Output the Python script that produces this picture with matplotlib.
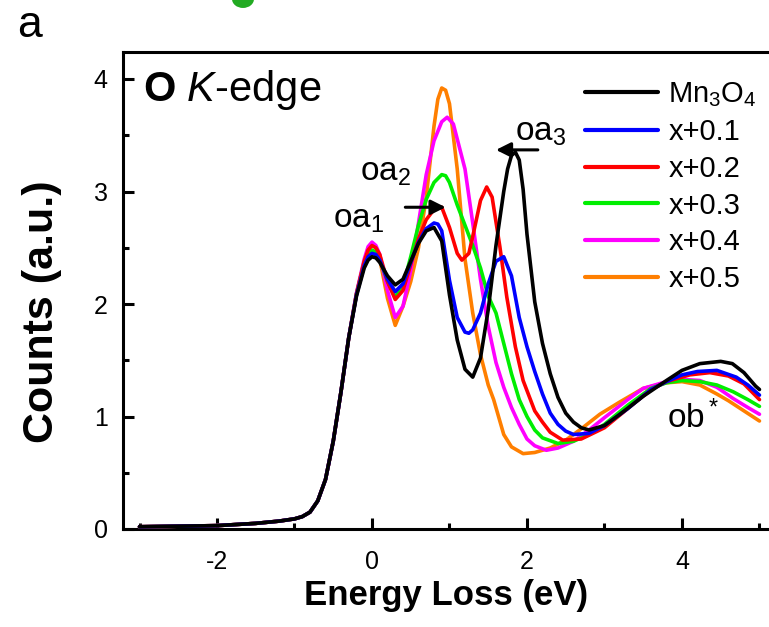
import matplotlib
matplotlib.use("Agg")
import matplotlib.pyplot as plt
from matplotlib.patches import Circle
from matplotlib.ticker import MultipleLocator

plt.rcParams['font.family'] = ['Liberation Sans', 'DejaVu Sans']
plt.rcParams['mathtext.fontset'] = 'custom'
plt.rcParams['mathtext.rm'] = 'Liberation Sans'
plt.rcParams['mathtext.it'] = 'Liberation Sans:italic'
plt.rcParams['mathtext.bf'] = 'Liberation Sans:bold'
plt.rcParams['axes.unicode_minus'] = False

# ---------------- data ----------------
labels = ['Mn$_3$O$_4$', 'x+0.1', 'x+0.2', 'x+0.3', 'x+0.4', 'x+0.5']
colors = ['#000000', '#0000ff', '#ff0000', '#00ee00', '#ff00ff', '#ff7f00']

# shared onset (all spectra coincide here)
onset_x = [-3.0, -2.5, -2.0, -1.5, -1.2, -1.0, -0.9, -0.8, -0.7, -0.6, -0.5, -0.4, -0.3]
onset_y = [0.02, 0.025, 0.03, 0.05, 0.07, 0.09, 0.11, 0.15, 0.25, 0.44, 0.78, 1.22, 1.70]

mn3o4_x = [-0.2, -0.1, -0.05, 0.0, 0.05, 0.1, 0.2, 0.3, 0.4, 0.5, 0.6, 0.7, 0.8, 0.9, 1.0, 1.1,
           1.2, 1.3, 1.4, 1.5, 1.6, 1.7, 1.75, 1.8, 1.85, 1.9, 1.95, 2.0, 2.1, 2.2, 2.3, 2.4, 2.5, 2.6, 2.7,
           2.8, 3.0, 3.2, 3.5, 3.8, 4.0, 4.23, 4.5, 4.65, 4.8, 4.95, 5.0]
mn3o4_y = [2.07, 2.32, 2.39, 2.42, 2.41, 2.37, 2.25, 2.17, 2.22, 2.38, 2.54, 2.65, 2.68, 2.56, 2.08, 1.68,
           1.42, 1.35, 1.52, 1.95, 2.52, 3.00, 3.20, 3.32, 3.35, 3.28, 3.02, 2.62, 2.02, 1.65, 1.38, 1.17, 1.03, 0.95, 0.90,
           0.88, 0.92, 1.02, 1.18, 1.32, 1.41, 1.47, 1.49, 1.47, 1.39, 1.27, 1.24]

x01_x = [-0.2, -0.1, -0.05, 0.0, 0.05, 0.1, 0.2, 0.3, 0.4, 0.5, 0.6, 0.7, 0.8, 0.85, 0.9, 1.0, 1.1,
         1.2, 1.25, 1.3, 1.4, 1.5, 1.6, 1.7, 1.8, 1.9, 2.0, 2.1, 2.2, 2.3, 2.4, 2.5, 2.6, 2.8, 3.0,
         3.3, 3.6, 3.8, 4.0, 4.2, 4.45, 4.7, 4.85, 5.0]
x01_y = [2.08, 2.34, 2.42, 2.45, 2.44, 2.39, 2.22, 2.11, 2.18, 2.37, 2.55, 2.67, 2.72, 2.71, 2.65, 2.21, 1.88,
         1.75, 1.74, 1.77, 1.92, 2.18, 2.38, 2.42, 2.25, 1.88, 1.62, 1.40, 1.20, 1.03, 0.93, 0.87, 0.84, 0.85, 0.92,
         1.07, 1.24, 1.31, 1.37, 1.40, 1.41, 1.35, 1.28, 1.19]

x02_x = [-0.2, -0.1, -0.05, 0.0, 0.05, 0.1, 0.2, 0.3, 0.4, 0.5, 0.6, 0.7, 0.8, 0.9, 1.0, 1.1, 1.16,
         1.25, 1.3, 1.4, 1.48, 1.55, 1.65, 1.74, 1.85, 1.95, 2.1, 2.2, 2.3, 2.46, 2.7, 3.0, 3.3, 3.6,
         3.8, 4.1, 4.36, 4.6, 4.8, 5.0]
x02_y = [2.09, 2.38, 2.48, 2.52, 2.50, 2.44, 2.20, 2.04, 2.12, 2.35, 2.58, 2.75, 2.84, 2.86, 2.68, 2.45, 2.39,
         2.45, 2.60, 2.92, 3.04, 2.95, 2.51, 2.06, 1.62, 1.32, 1.05, 0.95, 0.86, 0.79, 0.80, 0.90, 1.07, 1.24,
         1.31, 1.37, 1.39, 1.36, 1.29, 1.15]

x03_x = [-0.2, -0.1, -0.05, 0.0, 0.05, 0.1, 0.2, 0.3, 0.4, 0.5, 0.6, 0.7, 0.8, 0.9, 0.95, 1.0, 1.1,
         1.2, 1.3, 1.4, 1.5, 1.6, 1.7, 1.8, 1.9, 2.0, 2.1, 2.2, 2.4, 2.6, 2.8, 3.0, 3.3, 3.6, 3.8, 4.0,
         4.23, 4.45, 4.66, 4.85, 5.0]
x03_y = [2.09, 2.37, 2.45, 2.48, 2.46, 2.40, 2.20, 2.06, 2.16, 2.42, 2.70, 2.93, 3.08, 3.15, 3.14, 3.08, 2.88,
         2.70, 2.52, 2.32, 2.07, 1.92, 1.65, 1.38, 1.15, 1.00, 0.88, 0.81, 0.76, 0.78, 0.84, 0.93, 1.10, 1.25, 1.30, 1.32,
         1.31, 1.28, 1.22, 1.15, 1.09]

x04_x = [-0.2, -0.1, -0.05, 0.0, 0.05, 0.1, 0.2, 0.3, 0.4, 0.5, 0.6, 0.7, 0.8, 0.9, 0.97, 1.05, 1.2,
         1.3, 1.4, 1.5, 1.6, 1.7, 1.8, 1.9, 2.0, 2.1, 2.25, 2.4, 2.6, 2.8, 3.0, 3.3, 3.5, 3.8, 4.0, 4.23,
         4.45, 4.66, 4.85, 5.0]
x04_y = [2.10, 2.40, 2.51, 2.55, 2.52, 2.44, 2.12, 1.88, 1.98, 2.30, 2.72, 3.15, 3.45, 3.62, 3.66, 3.60, 3.20,
         2.72, 2.22, 1.80, 1.48, 1.26, 1.08, 0.93, 0.80, 0.74, 0.70, 0.72, 0.78, 0.88, 0.99, 1.15, 1.25, 1.31, 1.33, 1.32,
         1.26, 1.16, 1.08, 1.02]

x05_x = [-0.2, -0.1, -0.05, 0.0, 0.05, 0.1, 0.2, 0.3, 0.4, 0.5, 0.6, 0.7, 0.8, 0.85, 0.9, 0.95, 1.0, 1.1,
         1.2, 1.3, 1.4, 1.5, 1.57, 1.7, 1.8, 1.95, 2.1, 2.3, 2.5, 2.7, 2.94, 3.2, 3.5, 3.8, 4.0, 4.23,
         4.45, 4.6, 4.8, 5.0]
x05_y = [2.09, 2.38, 2.49, 2.53, 2.50, 2.40, 2.05, 1.81, 1.98, 2.20, 2.50, 2.95, 3.58, 3.82, 3.92, 3.90, 3.78, 3.20,
         2.40, 1.92, 1.55, 1.28, 1.15, 0.84, 0.73, 0.67, 0.68, 0.72, 0.79, 0.89, 1.02, 1.13, 1.25, 1.30, 1.31, 1.28,
         1.20, 1.14, 1.05, 0.96]

series_x = [mn3o4_x, x01_x, x02_x, x03_x, x04_x, x05_x]
series_y = [mn3o4_y, x01_y, x02_y, x03_y, x04_y, x05_y]

# annotation labels
peak_labels = ['oa$_1$', 'oa$_2$', 'oa$_3$', 'ob$^*$']
peak_label_xy = [(-0.50, 2.68), (-0.16, 3.10), (1.85, 3.45), (3.81, 0.90)]
arrow_oa2 = ((0.43, 2.86), (0.95, 2.86))   # (tail, head)
arrow_oa3 = ((2.14, 3.37), (1.60, 3.37))

# ---------------- figure ----------------
W, H = 769, 627
fig = plt.figure(figsize=(W / 100, H / 100), dpi=100)
ax = fig.add_axes([123 / W, 1 - 529 / H, 1 - 123 / W, (529 - 52) / H])

lw = 2.6
for i, (xs, ys, c, lab) in enumerate(zip(series_x, series_y, colors, labels)):
    ax.plot(onset_x + xs, onset_y + ys, color=c, lw=lw, label=lab, zorder=10 - i,
            solid_joinstyle='round', solid_capstyle='round')

ax.set_xlim(-3.213, 5.123)
ax.set_ylim(0, 4.24)

ax.xaxis.set_major_locator(MultipleLocator(2))
ax.xaxis.set_minor_locator(MultipleLocator(1))
ax.yaxis.set_major_locator(MultipleLocator(1))
ax.yaxis.set_minor_locator(MultipleLocator(0.5))
ax.tick_params(which='both', direction='in', width=2.2, top=False, right=False)
ax.tick_params(which='major', length=8)
ax.tick_params(which='minor', length=4.5)
ax.tick_params(axis='y', which='major', labelsize=18, pad=11)
ax.tick_params(axis='x', which='major', labelsize=18, pad=15)
for s in ['left', 'bottom', 'top']:
    ax.spines[s].set_linewidth(2.2)
ax.spines['right'].set_visible(False)

ax.set_xlabel('Energy Loss (eV)', fontsize=25, fontweight='bold', labelpad=4)
ax.set_ylabel('Counts (a.u.)', fontsize=31, fontweight='bold')
ax.yaxis.set_label_coords(-0.094, 0.455)

ax.text(-2.955, 3.80, r'$\mathbf{O}$ $\mathit{K}$-edge', fontsize=30, va='baseline', ha='left')

for lab, (tx, ty) in zip(peak_labels, peak_label_xy):
    ax.text(tx, ty, lab, fontsize=24, va='baseline', ha='left', zorder=20)

for (tail, head) in (arrow_oa2, arrow_oa3):
    ax.annotate('', xy=head, xytext=tail,
                arrowprops=dict(arrowstyle='-|>', color='black', lw=2.2,
                                mutation_scale=22, shrinkA=0, shrinkB=0), zorder=20)

leg = ax.legend(loc='upper left', bbox_to_anchor=(0.715, 0.94), frameon=False,
                fontsize=21, handlelength=2.5, handletextpad=0.36, labelspacing=0.30,
                borderpad=0, borderaxespad=0)
for line in leg.get_lines():
    line.set_linewidth(3)

fig.text(17 / W, 1 - 37 / H, 'a', fontsize=32, va='baseline', ha='left')
fig.patches.append(Circle((243 / W, 1 + 1 / H), 11 / W, transform=fig.transFigure,
                          facecolor='#22aa22', edgecolor='none'))

fig.savefig('out.png', dpi=100)
